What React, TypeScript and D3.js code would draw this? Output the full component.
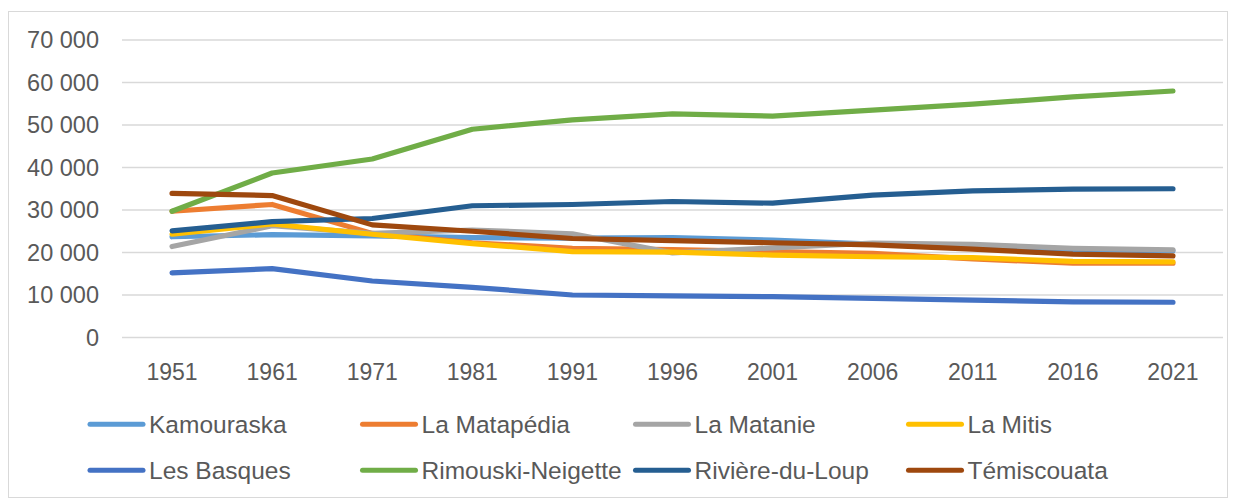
import React, { Component } from 'react'
import * as d3 from 'd3'

const years = ['1951', '1961', '1971', '1981', '1991', '1996', '2001', '2006', '2011', '2016', '2021']

const kamouraska = [23700, 24200, 23900, 23500, 23400, 23500, 22900, 22000, 21300, 20700, 20400]
const laMatapedia = [29700, 31300, 24500, 22300, 21000, 20700, 20200, 19800, 18500, 17500, 17500]
const laMatanie = [21400, 26300, 24500, 25300, 24400, 19900, 21100, 22200, 21900, 21000, 20600]
const laMitis = [24300, 26700, 24300, 22100, 20200, 20100, 19400, 19000, 18800, 17900, 17800]
const lesBasques = [15200, 16200, 13300, 11800, 10000, 9800, 9600, 9200, 8800, 8400, 8300]
const rimouskiNeigette = [29700, 38700, 42000, 49000, 51200, 52600, 52100, 53500, 54900, 56600, 58000]
const riviereDuLoup = [25100, 27250, 28000, 31000, 31300, 32000, 31600, 33500, 34500, 34900, 35000]
const temiscouata = [33900, 33400, 26500, 25000, 23300, 22800, 22300, 21800, 20800, 19600, 19200]

const seriesNames = ['Kamouraska', 'La Matapédia', 'La Matanie', 'La Mitis', 'Les Basques', 'Rimouski-Neigette', 'Rivière-du-Loup', 'Témiscouata']
const seriesValues = [kamouraska, laMatapedia, laMatanie, laMitis, lesBasques, rimouskiNeigette, riviereDuLoup, temiscouata]
const seriesColors = ['#5B9BD5', '#ED7D31', '#A5A5A5', '#FFC000', '#4472C4', '#70AD47', '#255E91', '#9E480E']

const yTicks = [0, 10000, 20000, 30000, 40000, 50000, 60000, 70000]

const W = 1236, H = 498
const FONT = '"Liberation Sans", Arial, sans-serif'

class LineChart extends Component {
  svgRef = React.createRef<SVGSVGElement>()

  componentDidMount() {
    this.drawchart()
  }

  drawchart = () => {
    const svg = d3.select(this.svgRef.current)
    svg.selectAll('*').remove()

    const plot = { left: 122, right: 1223, top: 40, bottom: 337.5 }

    // outer frame
    svg.append('rect')
      .attr('x', 8.5).attr('y', 11.5)
      .attr('width', 1219).attr('height', 486)
      .attr('fill', '#fff')
      .attr('stroke', '#d9d9d9')
      .attr('stroke-width', 1)

    const x = d3.scaleBand<string>()
      .domain(years)
      .range([plot.left, plot.right])
    const y = d3.scaleLinear()
      .domain([0, 70000])
      .range([plot.bottom, plot.top])

    const fmt = d3.formatLocale({ thousands: ' ', grouping: [3], decimal: ',', currency: ['', ''] }).format(',d')

    // gridlines
    svg.append('g')
      .selectAll('line')
      .data(yTicks)
      .enter().append('line')
      .attr('x1', plot.left).attr('x2', plot.right)
      .attr('y1', d => y(d)).attr('y2', d => y(d))
      .attr('stroke', '#d9d9d9')
      .attr('stroke-width', 1.3)

    // y labels
    svg.append('g')
      .selectAll('text')
      .data(yTicks)
      .enter().append('text')
      .attr('x', 99)
      .attr('y', d => y(d) + 8.3)
      .attr('text-anchor', 'end')
      .style('font-family', FONT)
      .style('font-size', '23.5px')
      .style('fill', '#595959')
      .text(d => fmt(d))

    // x labels
    svg.append('g')
      .selectAll('text')
      .data(years)
      .enter().append('text')
      .attr('x', d => (x(d) as number) + x.bandwidth() / 2)
      .attr('y', 380)
      .attr('text-anchor', 'middle')
      .style('font-family', FONT)
      .style('font-size', '23px')
      .style('fill', '#595959')
      .text(d => d)

    const line = d3.line<number>()
      .x((d, i) => (x(years[i]) as number) + x.bandwidth() / 2)
      .y(d => y(d))

    svg.append('g')
      .selectAll('path')
      .data(seriesValues)
      .enter().append('path')
      .attr('d', d => line(d))
      .attr('fill', 'none')
      .attr('stroke', (d, i) => seriesColors[i])
      .attr('stroke-width', 5.2)
      .attr('stroke-linecap', 'round')
      .attr('stroke-linejoin', 'round')

    // legend: 4 columns, 2 rows
    const legend = svg.append('g')
    const colX = [90, 362.5, 635.5, 908.5]
    const rowY = [424.3, 470.3]
    seriesNames.forEach((name, i) => {
      const cx = colX[i % 4]
      const cy = rowY[Math.floor(i / 4)]
      legend.append('line')
        .attr('x1', cx).attr('x2', cx + 53)
        .attr('y1', cy).attr('y2', cy)
        .attr('stroke', seriesColors[i])
        .attr('stroke-width', 5)
        .attr('stroke-linecap', 'round')
      legend.append('text')
        .attr('x', cx + 59)
        .attr('y', cy + 8.7)
        .style('font-family', FONT)
        .style('font-size', '24.5px')
        .style('fill', '#595959')
        .text(name)
    })
  }

  render() {
    return (
      <div id="linechart">
        <svg ref={this.svgRef} width={W} height={H}
          style={{ position: 'absolute', left: 0, top: 0, background: '#fff' }}></svg>
      </div>
    )
  }
}

export default function App() {
  return <LineChart />
}
